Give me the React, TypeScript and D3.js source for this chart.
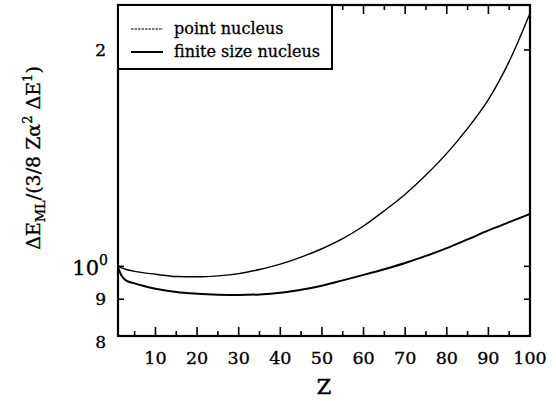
import * as d3 from "d3";

// ---- data ----
const zPoint = [1, 3, 5, 10, 15, 20, 25, 30, 35, 40, 45, 50, 55, 60, 65, 70, 75, 80, 85, 90, 95, 100];
const pointNucleus = [1.0, 0.99, 0.984, 0.975, 0.968, 0.967, 0.97, 0.977, 0.99, 1.007, 1.03, 1.058, 1.093, 1.138, 1.195, 1.26, 1.34, 1.436, 1.556, 1.706, 1.928, 2.25];

const zFinite = [1, 2, 3, 5, 7, 10, 15, 20, 25, 30, 35, 40, 45, 50, 55, 60, 65, 70, 75, 80, 85, 90, 95, 100];
const finiteNucleus = [0.996, 0.968, 0.955, 0.947, 0.94, 0.931, 0.921, 0.916, 0.913, 0.912, 0.914, 0.919, 0.928, 0.94, 0.956, 0.973, 0.991, 1.011, 1.034, 1.06, 1.09, 1.122, 1.152, 1.183];

const xMajor = [10, 20, 30, 40, 50, 60, 70, 80, 90, 100];
const xMinor = [5, 15, 25, 35, 45, 55, 65, 75, 85, 95];
const yTicks = [0.8, 0.9, 1, 2];
const yTickLabels = ["8", "9", "10", "2"];

const W = 556;
const H = 401;
const m = { left: 118, right: 26, top: 5, bottom: 65 };
const serif = "'DejaVu Serif', serif";

export default function App() {
  const x = d3.scaleLinear().domain([1, 100]).range([m.left, W - m.right]);
  const y = d3.scaleLog().domain([0.8, 2.31]).range([H - m.bottom, m.top]);

  const line = d3
    .line<[number, number]>()
    .x((d) => x(d[0]))
    .y((d) => y(d[1]))
    .curve(d3.curveMonotoneX);

  const ptData = zPoint.map((z, i) => [z, pointNucleus[i]] as [number, number]);
  const fnData = zFinite.map((z, i) => [z, finiteNucleus[i]] as [number, number]);

  const x0 = x.range()[0];
  const x1 = x.range()[1];
  const yb = y.range()[0];
  const yt = y.range()[1];

  return (
    <svg
      width={W}
      height={H}
      style={{ position: "absolute", left: 0, top: 0, background: "#fff" }}
      fontFamily={serif}
    >
      <rect width={W} height={H} fill="#fff" />

      {/* curves */}
      <path d={line(ptData) ?? ""} fill="none" stroke="#000" strokeWidth={1.4} />
      <path d={line(fnData) ?? ""} fill="none" stroke="#000" strokeWidth={2} />

      <g stroke="#000" strokeWidth={0.35}>
        {/* x ticks, bottom and top, pointing inward */}
        {xMajor.map((t) => (
          <g key={"xM" + t}>
            <line x1={x(t)} x2={x(t)} y1={yb} y2={yb - 9} strokeWidth={1.6} />
            <line x1={x(t)} x2={x(t)} y1={yt} y2={yt + 9} strokeWidth={1.6} />
            <text x={x(t)} y={yb + 28} textAnchor="middle" fontSize={17.5}>
              {t}
            </text>
          </g>
        ))}
        {xMinor.map((t) => (
          <g key={"xm" + t}>
            <line x1={x(t)} x2={x(t)} y1={yb} y2={yb - 5} strokeWidth={1.6} />
            <line x1={x(t)} x2={x(t)} y1={yt} y2={yt + 5} strokeWidth={1.6} />
          </g>
        ))}

        {/* y ticks left and right */}
        {yTicks.map((t, i) => (
          <g key={"y" + t}>
            {t !== 0.8 && (
              <>
                <line x1={x0} x2={x0 + 6} y1={y(t)} y2={y(t)} strokeWidth={1.6} />
                <line x1={x1} x2={x1 - 6} y1={y(t)} y2={y(t)} strokeWidth={1.6} />
              </>
            )}
            {t === 1 ? (
              <text x={108} y={y(t) + 9} textAnchor="end" fontSize={21}>
                {yTickLabels[i]}
                <tspan fontSize={14} dy={-10}>0</tspan>
              </text>
            ) : (
              <text x={106} y={y(t) + 6 + (t === 0.8 ? 6 : 0)} textAnchor="end" fontSize={17}>
                {yTickLabels[i]}
              </text>
            )}
          </g>
        ))}
      </g>

      {/* frame */}
      <rect x={x0} y={yt} width={x1 - x0} height={yb - yt} fill="none" stroke="#000" strokeWidth={2.2} />

      {/* legend */}
      <g>
        <rect x={x0} y={yt} width={214} height={64} fill="#fff" stroke="#000" strokeWidth={2} />
        <line x1={131} x2={163} y1={29} y2={29} stroke="#000" strokeWidth={1.2} strokeDasharray="2.5,1" />
        <text x={174} y={34} fontSize={16} stroke="#000" strokeWidth={0.3}>point nucleus</text>
        <line x1={131} x2={163} y1={52} y2={52} stroke="#000" strokeWidth={2} />
        <text x={174} y={57} fontSize={16} stroke="#000" strokeWidth={0.3}>finite size nucleus</text>
      </g>

      {/* axis titles */}
      <text x={(x0 + x1) / 2} y={394} textAnchor="middle" fontSize={21} stroke="#000" strokeWidth={0.4}>
        Z
      </text>
      <text
        transform={`translate(40, 158) rotate(-90)`}
        textAnchor="middle"
        fontSize={19}
        stroke="#000"
        strokeWidth={0.35}
      >
        ΔE
        <tspan fontSize={13} dy={5}>ML</tspan>
        <tspan dy={-5}>/(3/8 Zα</tspan>
        <tspan fontSize={13} dy={-8}>2</tspan>
        <tspan dy={8}> ΔE</tspan>
        <tspan fontSize={13} dy={-8}>1</tspan>
        <tspan dy={8}>)</tspan>
      </text>
    </svg>
  );
}
